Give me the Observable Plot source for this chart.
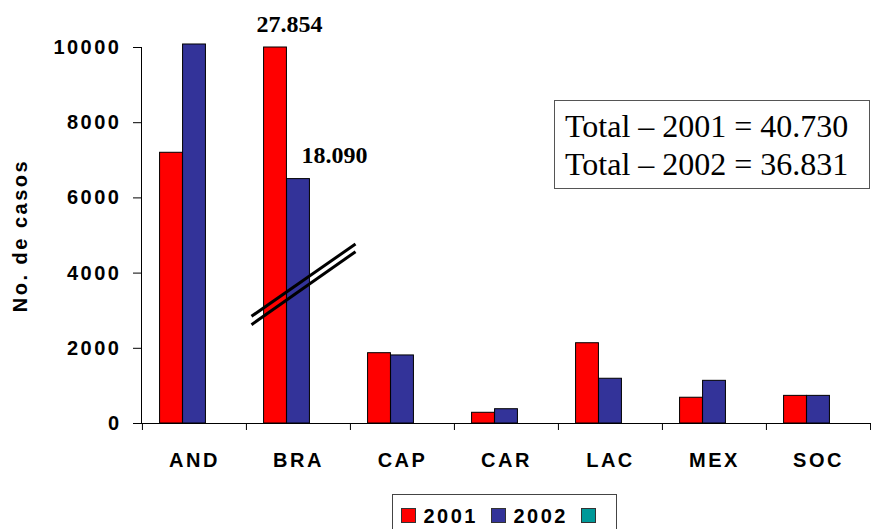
<!DOCTYPE html>
<html>
<head>
<meta charset="utf-8">
<script src="https://cdn.jsdelivr.net/npm/d3@7"></script>
<script src="https://cdn.jsdelivr.net/npm/@observablehq/plot@0.6"></script>
<style>
  body { margin: 0; background: #fff; }
  #wrap { position: relative; width: 871px; height: 529px; overflow: hidden; font-family: Arial, "Liberation Sans", sans-serif; }
  #totals { position: absolute; left: 554px; top: 100px; width: 316px; height: 89px; box-sizing: border-box;
    border: 1.5px solid #555; padding: 6px 0 0 10px; font: 32px "Times New Roman", "Liberation Serif", serif;
    line-height: 38.4px; color: #000; white-space: nowrap; background: #fff; }
  #legend { position: absolute; left: 392px; top: 494px; width: 225px; height: 60px; box-sizing: border-box;
    border: 1px solid #444; padding: 10.7px 0 0 8px; display: flex; align-items: baseline;
    font: bold 20px Arial, "Liberation Sans", sans-serif; letter-spacing: 2.5px; line-height: 20px; background: #fff; }
  #legend .sw { display: inline-block; width: 15px; height: 15px; box-sizing: border-box; border: 1px solid #333; }
  #legend .lb { margin-left: 7.5px; }
</style>
</head>
<body>
<div id="wrap">
  <div id="chart"></div>
  <div id="totals"></div>
  <div id="legend"></div>
</div>
<script>
// ---- data ----
const regions = ["AND", "BRA", "CAP", "CAR", "LAC", "MEX", "SOC"];
const series = ["2001", "2002", ""];
const colors = ["#ff0000", "#333399", "#009999"];
const values2001 = [7200, 10000, 1870, 285, 2135, 685, 735];
const values2002 = [10080, 6500, 1810, 380, 1190, 1135, 735];
const yTicks = [0, 2000, 4000, 6000, 8000, 10000];
// BRA bars are cut (axis break); real values shown as labels
const breakRegion = "BRA";
const breakActual = [27854, 18090];
// axis-break symbol (two parallel strokes), in data units
const breakLeftY = [2851, 2628];
const breakRightY = [4774, 4569];
const totalYears = ["2001", "2002"];
const totals = [40730, 36831];

// ---- helpers ----
const fmt = d3.formatLocale({decimal: ",", thousands: ".", grouping: [3], currency: ["", ""]}).format(",");
const W = 871, H = 480, ML = 141, MR = 1, MT = 47, MB = 57;
const bw = (W - ML - MR) / regions.length;
const barW = 23;
const inset = (bw - barW) / 2;

const rows = regions.flatMap((r, i) => [
  {region: r, series: series[0], value: values2001[i]},
  {region: r, series: series[1], value: values2002[i]}
]);

const barFor = (s) => Plot.barY(rows.filter(d => d.series === s), {
  x: "region", y: "value",
  fill: colors[series.indexOf(s)], stroke: "#000", strokeWidth: 1,
  insetLeft: inset, insetRight: inset,
  dx: (series.indexOf(s) - 1) * barW
});

const bi = regions.indexOf(breakRegion);
const annot = [
  {region: breakRegion, value: values2001[bi], label: fmt(breakActual[0])},
  {region: breakRegion, value: values2002[bi], label: fmt(breakActual[1])}
];
const annotStyle = {
  x: "region", y: "value", text: "label",
  fontFamily: "'Times New Roman', 'Liberation Serif', serif", fontSize: 24, fontWeight: "bold",
  lineAnchor: "bottom", fill: "#000"
};

const chart = Plot.plot({
  width: W, height: H,
  marginLeft: ML, marginRight: MR, marginTop: MT, marginBottom: MB,
  style: "font-family: Arial, 'Liberation Sans', sans-serif; font-size: 20px; font-weight: bold; letter-spacing: 2.5px; color: #000; background: #fff; overflow: visible;",
  x: {domain: regions, padding: 0, tickSize: 0, tickPadding: 29.5, label: null, line: true},
  y: {domain: [0, 10000], ticks: yTicks, tickSize: 8, tickPadding: 12, tickFormat: d => String(d), label: null, line: true},
  marks: [
    barFor(series[0]),
    barFor(series[1]),
    // category boundary ticks
    Plot.ruleX(regions, {x: d => d, y1: 0, y2: 0, insetBottom: -7, dx: -bw / 2, stroke: "#000"}),
    Plot.ruleX([regions[regions.length - 1]], {x: d => d, y1: 0, y2: 0, insetBottom: -7, dx: bw / 2, stroke: "#000"}),
    // axis break strokes
    Plot.link([0, 1], {
      x1: () => breakRegion, x2: () => regions[bi + 1],
      y1: i => breakLeftY[i], y2: i => breakRightY[i],
      stroke: "#000", strokeWidth: 3, dx: -47
    }),
    Plot.text([annot[0]], {...annotStyle, dx: -9, dy: -15.5}),
    Plot.text([annot[1]], {...annotStyle, dx: 36, dy: -16.3}),
    Plot.text(["No. de casos"], {frameAnchor: "left", textAnchor: "middle", rotate: -90, dx: -121, fontSize: 20, fontWeight: "bold", fill: "#000"})
  ]
});
document.getElementById("chart").appendChild(chart);
const annotLabels = new Set(annot.map(d => d.label));
d3.select(chart).selectAll("text").filter(function () { return annotLabels.has(this.textContent); })
  .style("letter-spacing", "0px");

// totals box
d3.select("#totals").selectAll("div").data(totals).join("div")
  .text((t, i) => `Total – ${totalYears[i]} = ${fmt(t)}`);

// legend
const leg = d3.select("#legend");
series.forEach((s, i) => {
  leg.append("span").attr("class", "sw").style("background", colors[i])
    .style("margin-left", i === 0 ? "0px" : "13px");
  if (s) leg.append("span").attr("class", "lb").text(s);
});
</script>
</body>
</html>
